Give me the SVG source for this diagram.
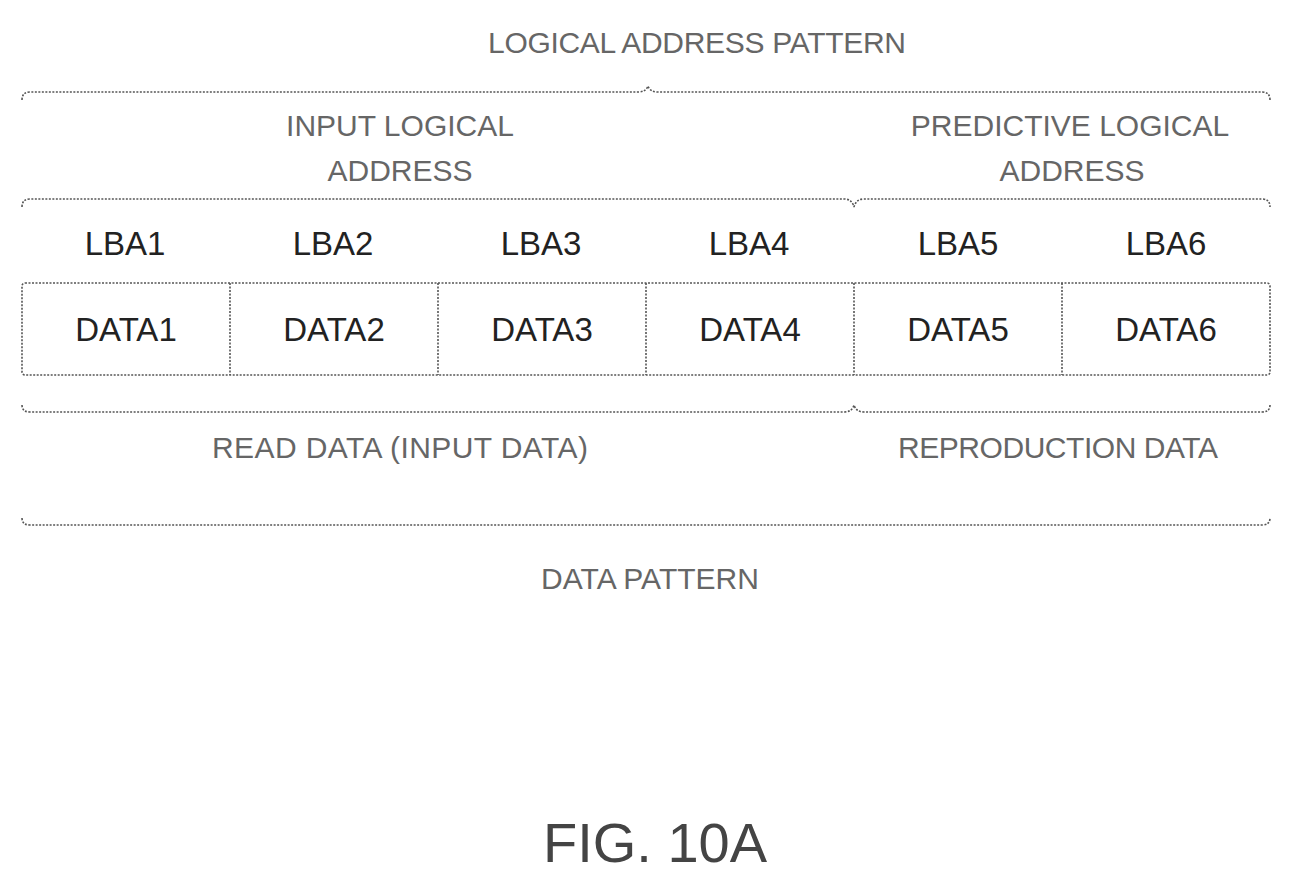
<svg xmlns="http://www.w3.org/2000/svg" width="1293" height="889" viewBox="0 0 1293 889">
<style>
.b{fill:none;stroke:#555;stroke-width:1.6;stroke-dasharray:2 1.5}
.t{font-family:"Liberation Sans",Arial,sans-serif;fill:#444;text-anchor:middle}
.s{font-size:30px;fill:#666}
.m{font-size:33px;fill:#222}
</style>
<rect width="1293" height="889" fill="#fff"/>
<g id="connectors">
<path class="b" d="M22,100 Q22,92 30,92 L638,92 Q646,92 648,86 Q650,92 658,92 L1262,92 Q1270,92 1270,100"/>
<path class="b" d="M22,207 Q22,199 30,199 L844,199 Q852,199 854,207 Q856,199 864,199 L1262,199 Q1270,199 1270,207"/>
<path class="b" d="M22,405 Q22,412 30,412 L844,412 Q852,412 854,405 Q856,412 864,412 L1262,412 Q1270,412 1270,405"/>
<path class="b" d="M22,518 Q22,525 30,525 L1262,525 Q1270,525 1270,518"/>
</g>
<g id="boxes">
<rect class="b" x="22" y="283" width="1248" height="92" rx="3"/>
<path class="b" d="M230,283V375M438,283V375M646,283V375M854,283V375M1062,283V375"/>
</g>
<g id="labels">
<text class="t s" x="697" y="53" textLength="418">LOGICAL ADDRESS PATTERN</text>
<text class="t s" x="400" y="136">INPUT LOGICAL</text>
<text class="t s" x="400" y="181">ADDRESS</text>
<text class="t s" x="1070" y="136">PREDICTIVE LOGICAL</text>
<text class="t s" x="1072" y="181">ADDRESS</text>
<text class="t s" x="400" y="458" textLength="376">READ DATA (INPUT DATA)</text>
<text class="t s" x="1058" y="458" textLength="320">REPRODUCTION DATA</text>
<text class="t s" x="650" y="589">DATA PATTERN</text>
<text class="t m" x="125" y="255">LBA1</text>
<text class="t m" x="333" y="255">LBA2</text>
<text class="t m" x="541" y="255">LBA3</text>
<text class="t m" x="749" y="255">LBA4</text>
<text class="t m" x="958" y="255">LBA5</text>
<text class="t m" x="1166" y="255">LBA6</text>
<text class="t m" x="126" y="341">DATA1</text>
<text class="t m" x="334" y="341">DATA2</text>
<text class="t m" x="542" y="341">DATA3</text>
<text class="t m" x="750" y="341">DATA4</text>
<text class="t m" x="958" y="341">DATA5</text>
<text class="t m" x="1166" y="341">DATA6</text>
<text class="t" x="655" y="862" font-size="56" fill="#333">FIG. 10A</text>
</g>
</svg>
